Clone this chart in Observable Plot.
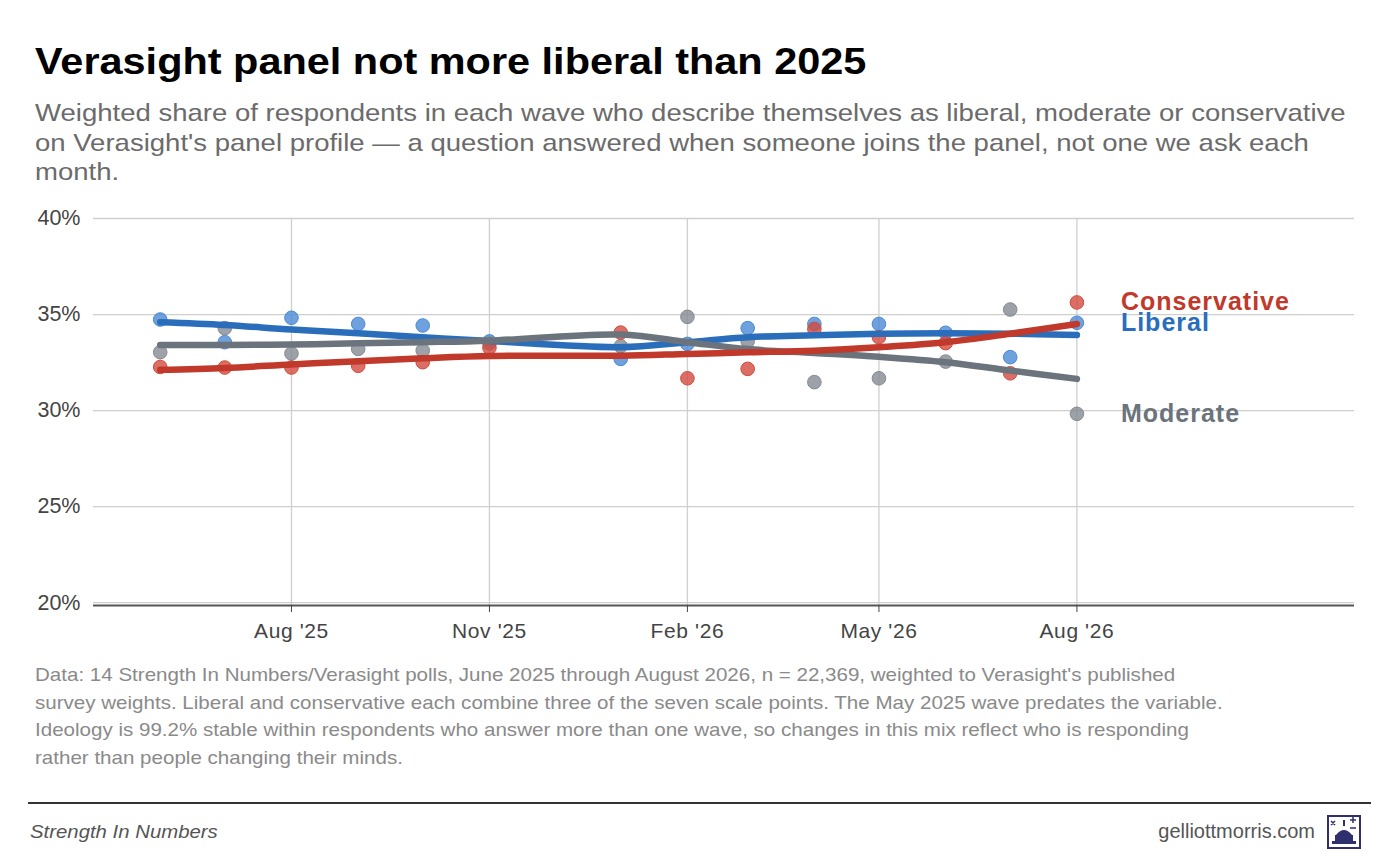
<!DOCTYPE html>
<html>
<head>
<meta charset="utf-8">
<script src="https://cdn.jsdelivr.net/npm/d3@7"></script>
<script src="https://cdn.jsdelivr.net/npm/@observablehq/plot@0.6"></script>
<style>
  body { margin: 0; background: #fff; font-family: "Liberation Sans", Arial, sans-serif; width: 1400px; height: 856px; position: relative; overflow: hidden; }
  .wide { transform-origin: left top; white-space: nowrap; }
  #title { position: absolute; left: 35px; top: 43px; font-size: 37px; font-weight: bold; color: #000; line-height: 1; transform: scaleX(1.12); }
  #subtitle { position: absolute; left: 35px; top: 98px; font-size: 24.8px; color: #6b6b6b; line-height: 29.5px; transform: scaleX(1.11); }
  #chart { position: absolute; left: 0; top: 200px; }
  #chart g[aria-label="text"] text { letter-spacing: 1px; }
  #chart g[aria-label="x-axis tick label"] text { letter-spacing: 0.6px; }
  #caption { position: absolute; left: 35px; top: 662px; font-size: 18.2px; color: #8a8a8a; line-height: 27.7px; transform: scaleX(1.13); }
  #rule { position: absolute; left: 28px; top: 802px; width: 1343px; height: 2px; background: #333; }
  #source { position: absolute; left: 30px; top: 821px; font-size: 18.5px; font-style: italic; color: #555; transform: scaleX(1.1); }
  #site { position: absolute; right: 85px; top: 820px; font-size: 20px; color: #555; }
  #logo { position: absolute; left: 1327px; top: 815px; }
</style>
</head>
<body>
<div id="title" class="wide">Verasight panel not more liberal than 2025</div>
<div id="subtitle" class="wide">Weighted share of respondents in each wave who describe themselves as liberal, moderate or conservative<br>on Verasight's panel profile — a question answered when someone joins the panel, not one we ask each<br>month.</div>
<div id="chart"></div>
<div id="caption" class="wide">Data: 14 Strength In Numbers/Verasight polls, June 2025 through August 2026, n = 22,369, weighted to Verasight's published<br>survey weights. Liberal and conservative each combine three of the seven scale points. The May 2025 wave predates the variable.<br>Ideology is 99.2% stable within respondents who answer more than one wave, so changes in this mix reflect who is responding<br>rather than people changing their minds.</div>
<div id="rule"></div>
<div id="source" class="wide">Strength In Numbers</div>
<div id="site">gelliottmorris.com</div>
<svg id="logo" width="34" height="34" viewBox="0 0 34 34">
  <rect x="1" y="1" width="32" height="32" fill="#fff" stroke="#2f2e6e" stroke-width="2"/>
  <path d="M5 29 h24 v-3 h-24 z M8 26 v-6 h18 v6 z M9 20 q8 -10 16 0 z" fill="#2f2e6e"/>
  <rect x="16" y="5" width="2" height="6" fill="#2f2e6e"/>
  <path d="M23 5 h6 M26 2 v6 M4 6 l4 4 M8 6 l-4 4 M23 13 h6" stroke="#2f2e6e" stroke-width="1.5"/>
</svg>
<script>
// survey waves (first of each month)
const waves = ["2025-06-01", "2025-07-01", "2025-08-01", "2025-09-01", "2025-10-01", "2025-11-01",
  "2026-01-01", "2026-02-01", "2026-03-01", "2026-04-01", "2026-05-01", "2026-06-01", "2026-07-01", "2026-08-01"];

const series = ["Liberal", "Moderate", "Conservative"];

// weighted share per wave (%)
const liberal = [34.74, 33.56, 34.83, 34.51, 34.43, 33.6, 32.69, 33.47, 34.29, 34.51, 34.51, 34.05, 32.78, 34.57];
const moderate = [33.04, 34.29, 32.97, 33.21, 33.13, 33.5, 33.35, 34.88, 33.61, 31.48, 31.68, 32.55, 35.26, 29.83];
const conservative = [32.27, 32.24, 32.24, 32.33, 32.52, 33.27, 34.06, 31.68, 32.17, 34.25, 33.82, 33.51, 31.94, 35.63];

// smoothed trend
const liberalTrend = [34.6, 34.46, 34.22, 34.03, 33.82, 33.62, 33.3, 33.56, 33.82, 33.92, 34.0, 34.02, 34.0, 33.94];
const moderateTrend = [33.42, 33.42, 33.44, 33.5, 33.56, 33.64, 33.96, 33.56, 33.2, 33.0, 32.8, 32.52, 32.08, 31.65];
const conservativeTrend = [32.12, 32.22, 32.4, 32.57, 32.72, 32.84, 32.86, 32.95, 33.03, 33.12, 33.3, 33.56, 34.0, 34.51];

const xTicks = ["2025-08-01", "2025-11-01", "2026-02-01", "2026-05-01", "2026-08-01"];
const yTicks = [20, 25, 30, 35, 40];

const lineColors = ["#2a6ebb", "#6b737c", "#c0392b"];
const dotColors = ["#4a8ad4", "#858a92", "#d24a3f"];

const values = { Liberal: liberal, Moderate: moderate, Conservative: conservative };
const trends = { Liberal: liberalTrend, Moderate: moderateTrend, Conservative: conservativeTrend };

const points = series.flatMap(s => waves.map((w, i) => ({ date: new Date(w), value: values[s][i], series: s })));
const trendRows = series.flatMap(s => waves.map((w, i) => ({ date: new Date(w), value: trends[s][i], series: s })));
const lastPoints = points.filter(d => +d.date === +new Date(waves[waves.length - 1]));
const tickDates = xTicks.map(d => new Date(d));

const dotColor = d => dotColors[series.indexOf(d.series)];
const lineColor = s => lineColors[series.indexOf(s)];

const chart = Plot.plot({
  width: 1400,
  height: 450,
  marginLeft: 93,
  marginRight: 46,
  marginTop: 18,
  marginBottom: 45,
  style: { fontFamily: "Liberation Sans, Arial, sans-serif", background: "transparent" },
  x: { type: "utc", domain: [new Date("2025-05-01"), new Date("2026-12-08")] },
  y: { domain: [19.85, 40] },
  marks: [
    Plot.ruleY(yTicks, { stroke: "#cfcfcf", strokeWidth: 1.3 }),
    Plot.ruleX(tickDates, { y1: 19.85, y2: 40, stroke: "#cfcfcf", strokeWidth: 1.3 }),
    Plot.ruleY([19.85], { stroke: "#555", strokeWidth: 2 }),
    Plot.axisX(tickDates, { tickFormat: d3.utcFormat("%b '%y"), tickSize: 7, tickPadding: 11, fontSize: 21, color: "#444", label: null }),
    Plot.axisY(yTicks, { tickFormat: d => d + "%", tickSize: 0, tickPadding: 13, fontSize: 21.5, color: "#444", label: null }),
    Plot.dot(points, { x: "date", y: "value", r: 6.8, fill: dotColor, fillOpacity: 0.8, stroke: dotColor, strokeWidth: 1 }),
    ...series.map(s => Plot.line(trendRows.filter(d => d.series === s), {
      x: "date", y: "value", stroke: lineColor(s), strokeWidth: 6.5, curve: "catmull-rom"
    })),
    Plot.text(lastPoints, {
      x: "date", y: "value", text: "series", dx: 44, textAnchor: "start",
      fill: d => lineColor(d.series), fontWeight: "bold", fontSize: 25
    })
  ]
});

document.getElementById("chart").appendChild(chart);
</script>
</body>
</html>
